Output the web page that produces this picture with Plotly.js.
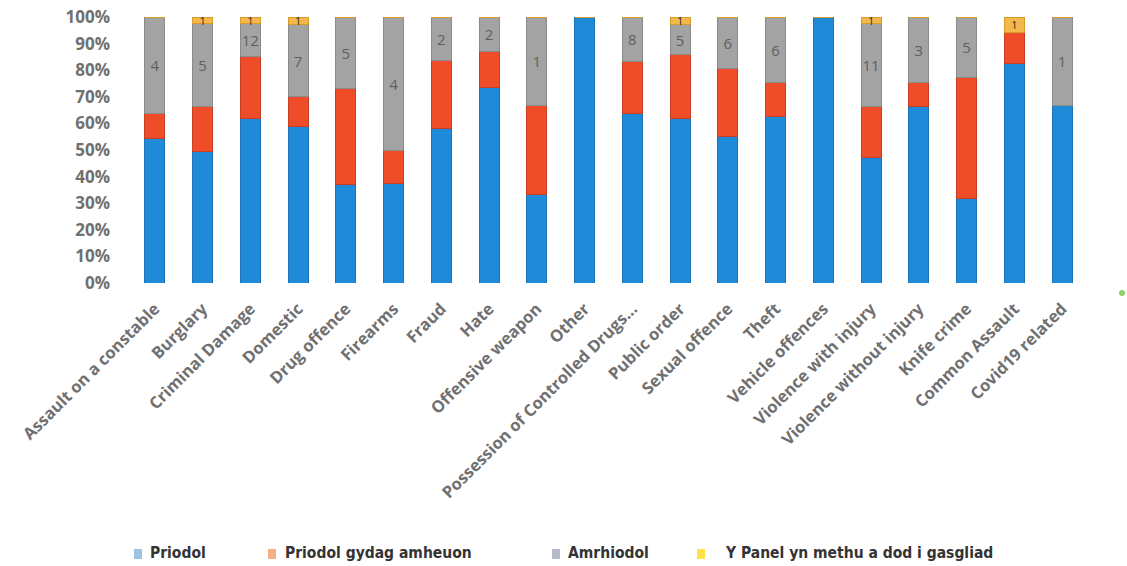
<!DOCTYPE html>
<html>
<head>
<meta charset="utf-8">
<script src="https://cdn.plot.ly/plotly-3.0.1.min.js"></script>
<style>html,body{margin:0;padding:0;background:#fff;}#chart{width:1127px;height:566px;}</style>
</head>
<body>
<div id="chart"></div>
<script>
const categories = ["Assault on a constable","Burglary","Criminal Damage","Domestic","Drug offence","Firearms","Fraud","Hate","Offensive weapon","Other","Possession of Controlled Drugs...","Public order","Sexual offence","Theft","Vehicle offences","Violence with injury","Violence without injury","Knife crime","Common Assault","Covid19 related"];
const priodol   = [54.5,49.5,62,59,37,37.5,58,73.5,33.3,100,63.7,62,55,62.5,100,47.2,66.5,31.8,82.4,66.7];
const amheuon   = [9.1,17,23,11,36,12.5,25.5,13.5,33.3,0,19.4,24,25.5,12.7,0,19.3,8.7,45.4,11.8,0];
const amrhiodol = [36.4,31,12.5,27,27,50,16.5,13,33.4,0,16.9,11,19.5,24.8,0,31,24.8,22.8,0,33.3];
const panel     = [0,2.5,2.5,3,0,0,0,0,0,0,0,3,0,0,0,2.5,0,0,5.8,0];
const amrhiodolLabels = ["4","5","12","7","5","4","2","2","1","","8","5","6","6","","11","3","5","","1"];
const panelLabels     = ["","1","1","1","","","","","","","","1","","","","1","","","1",""];
const seriesNames = ["Priodol","Priodol gydag amheuon","Amrhiodol","Y Panel yn methu a dod i gasgliad"];
const legendSwatch = ["#9dc3e6","#f4b183","#b4bac6","#ffe14d"];

const common = {type:'bar', x:categories, width:0.42, cliponaxis:false, constraintext:'none', textangle:0,
  hovertemplate:'%{x}: %{y}%<extra></extra>'};
const traces = [
  Object.assign({}, common, {name:seriesNames[0], y:priodol, marker:{color:'#1f8bd8', line:{color:'#1a74b8', width:1}}}),
  Object.assign({}, common, {name:seriesNames[1], y:amheuon, marker:{color:'#ef4c2a', line:{color:'#c93d20', width:1}}}),
  Object.assign({}, common, {name:seriesNames[2], y:amrhiodol, marker:{color:'#a3a3a3', line:{color:'#8a8a8a', width:1}},
    text:amrhiodolLabels, textposition:'inside', insidetextanchor:'middle', textfont:{color:'#5f5f5f', size:15, family:'Open Sans, sans-serif'}}),
  Object.assign({}, common, {name:seriesNames[3], y:panel, marker:{color:'#f2b94a', line:{color:'#d89a2a', width:1}},
    text:panelLabels, textposition:'inside', insidetextanchor:'middle', textfont:{color:'#2a2a2a', size:11, family:'Open Sans, sans-serif'}})
];

// legend drawn as real text, positioned in pixels
const L = 131, W = 955, B = 283, H = 266;
const px = v => (v - L) / W;
const py = v => (B - v) / H;
const legFont = {family:'Liberation Sans Narrow, DejaVu Sans Condensed, Arial Narrow, sans-serif', size:15.5, color:'#333333', weight:'bold'};
const legTextX = [148, 283, 566, 723];
const legMarkX = [134, 268, 552, 697];
const annotations = seriesNames.map((n,i) => ({text:n, xref:'paper', yref:'paper', x:px(legTextX[i]), y:py(553),
  xanchor:'left', yanchor:'middle', showarrow:false, font:legFont}));
const shapes = seriesNames.map((n,i) => ({type:'rect', xref:'paper', yref:'paper', xsizemode:'pixel', ysizemode:'pixel',
  xanchor:px(legMarkX[i]), yanchor:py(554), x0:0, x1:8, y0:-5, y1:5, fillcolor:legendSwatch[i], line:{width:0}}));
shapes.push({type:'circle', xref:'paper', yref:'paper', xsizemode:'pixel', ysizemode:'pixel',
  xanchor:px(1122), yanchor:py(293), x0:-3, x1:3, y0:-3, y1:3, fillcolor:'#8fd16a', line:{width:0}});

const layout = {
  width:1127, height:566,
  margin:{l:L, r:1127-L-W, t:17, b:566-B},
  paper_bgcolor:'#ffffff', plot_bgcolor:'#ffffff',
  barmode:'stack', bargap:0.58,
  showlegend:false,
  font:{family:'Open Sans, sans-serif', color:'#707070'},
  xaxis:{type:'category', tickangle:-45, showgrid:false, showline:false, ticks:'', zeroline:false, automargin:false,
    ticklabelstandoff:12,
    tickfont:{size:16.5, color:'#707070', family:'Open Sans, sans-serif', weight:'bold'}},
  yaxis:{range:[0,100], dtick:10, ticksuffix:'%', showgrid:false, showline:false, zeroline:false, ticks:'', automargin:false,
    ticklabelstandoff:20,
    tickfont:{size:17, color:'#707070', family:'Open Sans, sans-serif', weight:'bold'}},
  annotations:annotations,
  shapes:shapes
};
Plotly.newPlot('chart', traces, layout, {displayModeBar:false, staticPlot:true});
</script>
</body>
</html>
